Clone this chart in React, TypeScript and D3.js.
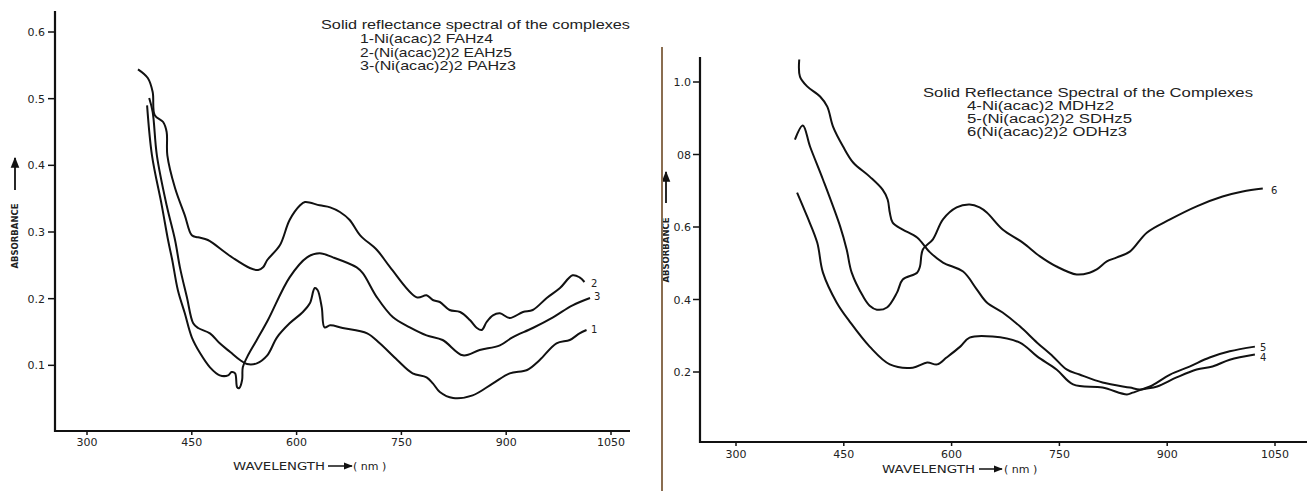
import React, { useEffect, useRef } from 'react';
import * as d3 from 'd3';

// shared wavelength ticks (nm)
const xTicks = [300, 450, 600, 750, 900, 1050];

// left panel
const leftYTicks = [0.1, 0.2, 0.3, 0.4, 0.5, 0.6];
const leftYLabels = ['0.1', '0.2', '0.3', '0.4', '0.5', '0.6'];
const leftLegend = [
    'Solid reflectance spectral of the complexes',
    '1-Ni(acac)2 FAHz4',
    '2-(Ni(acac)2)2 EAHz5',
    '3-(Ni(acac)2)2 PAHz3',
];

// right panel
const rightYTicks = [0.2, 0.4, 0.6, 0.8, 1.0];
const rightYLabels = ['0.2', '0.4', '0.6', '08', '1.0'];
const rightLegend = [
    'Solid Reflectance Spectral of the Complexes',
    '4-Ni(acac)2 MDHz2',
    '5-(Ni(acac)2)2 SDHz5',
    '6(Ni(acac)2)2 ODHz3',
];

// curve 1 - Ni(acac)2 FAHz4
const c1Nm = [389, 394, 400, 414, 426, 433, 443, 452, 459, 476, 490, 505, 519, 529, 543, 558, 572, 590, 609, 619, 626, 630, 636, 640, 648, 666, 701, 719, 744, 766, 786, 795, 805, 824, 852, 881, 905, 930, 948, 972, 991, 1005, 1015];
const c1Abs = [0.501, 0.48, 0.415, 0.34, 0.288, 0.247, 0.202, 0.163, 0.156, 0.148, 0.133, 0.12, 0.108, 0.102, 0.103, 0.115, 0.142, 0.163, 0.18, 0.193, 0.216, 0.213, 0.187, 0.157, 0.16, 0.156, 0.148, 0.133, 0.108, 0.088, 0.082, 0.073, 0.06, 0.051, 0.055, 0.073, 0.088, 0.093, 0.108, 0.133, 0.138, 0.148, 0.153];

// curve 2 - (Ni(acac)2)2 EAHz5
const c2Nm = [373, 387, 394, 397, 409, 414, 415, 426, 440, 450, 459, 473, 497, 509, 533, 545, 552, 558, 576, 590, 605, 612, 633, 648, 662, 676, 691, 715, 734, 772, 786, 795, 805, 819, 834, 848, 858, 865, 872, 881, 891, 905, 924, 938, 958, 977, 995, 1005, 1012];
const c2Abs = [0.544, 0.531, 0.51, 0.475, 0.465, 0.45, 0.415, 0.366, 0.325, 0.295, 0.292, 0.288, 0.27, 0.261, 0.246, 0.243, 0.247, 0.258, 0.28, 0.318, 0.34, 0.345, 0.34, 0.337, 0.33, 0.318, 0.295, 0.273, 0.247, 0.202, 0.205, 0.198, 0.195, 0.183, 0.18, 0.168, 0.156, 0.153, 0.165, 0.175, 0.178, 0.171, 0.18, 0.183, 0.201, 0.216, 0.235, 0.232, 0.225];

// curve 3 - (Ni(acac)2)2 PAHz3
const c3Nm = [386, 393, 407, 416, 422, 430, 440, 450, 462, 476, 490, 502, 507, 512, 515, 518, 522, 523, 529, 543, 559, 590, 615, 633, 652, 686, 695, 715, 738, 762, 786, 809, 838, 862, 891, 909, 938, 967, 995, 1020];
const c3Abs = [0.49, 0.415, 0.34, 0.288, 0.258, 0.213, 0.178, 0.142, 0.118, 0.097, 0.085, 0.085, 0.09, 0.088, 0.067, 0.066, 0.078, 0.097, 0.112, 0.138, 0.168, 0.232, 0.262, 0.268, 0.262, 0.247, 0.238, 0.202, 0.172, 0.157, 0.145, 0.138, 0.115, 0.123, 0.13, 0.142, 0.156, 0.172, 0.19, 0.201];

// curve 4 - Ni(acac)2 MDHz2
const c4Nm = [385, 399, 413, 421, 440, 459, 486, 514, 546, 566, 580, 593, 612, 625, 657, 695, 719, 746, 769, 810, 844, 852, 866, 886, 913, 941, 963, 987, 1022];
const c4Abs = [0.695, 0.629, 0.557, 0.474, 0.392, 0.337, 0.27, 0.221, 0.212, 0.226, 0.221, 0.24, 0.27, 0.295, 0.298, 0.281, 0.243, 0.207, 0.166, 0.157, 0.138, 0.143, 0.152, 0.16, 0.185, 0.207, 0.215, 0.234, 0.248];

// curve 5 - (Ni(acac)2)2 SDHz5
const c5Nm = [388, 389, 399, 417, 427, 435, 449, 463, 486, 504, 511, 514, 518, 532, 552, 570, 588, 616, 635, 649, 671, 695, 719, 741, 760, 778, 810, 848, 862, 876, 904, 931, 959, 987, 1022];
const c5Abs = [1.062, 1.015, 0.988, 0.96, 0.932, 0.877, 0.822, 0.778, 0.739, 0.703, 0.676, 0.64, 0.612, 0.593, 0.571, 0.53, 0.502, 0.477, 0.428, 0.392, 0.364, 0.326, 0.281, 0.243, 0.207, 0.193, 0.171, 0.157, 0.152, 0.16, 0.193, 0.215, 0.24, 0.257, 0.27];

// curve 6 - (Ni(acac)2)2 ODHz3
const c6Nm = [382, 393, 403, 421, 445, 454, 461, 477, 486, 496, 510, 524, 532, 552, 556, 560, 574, 588, 607, 625, 639, 649, 671, 699, 723, 746, 774, 792, 802, 816, 830, 848, 872, 904, 941, 977, 1005, 1033];
const c6Abs = [0.841, 0.88, 0.822, 0.731, 0.601, 0.538, 0.474, 0.408, 0.383, 0.372, 0.378, 0.419, 0.455, 0.474, 0.491, 0.538, 0.566, 0.621, 0.654, 0.662, 0.654, 0.64, 0.593, 0.557, 0.519, 0.491, 0.469, 0.474, 0.483, 0.505, 0.516, 0.532, 0.585, 0.621, 0.657, 0.684, 0.698, 0.706];

const zip = (nm: number[], abs: number[]) => nm.map((v, i) => [v, abs[i]] as [number, number]);

const App: React.FC = () => {
    const svgRef = useRef<SVGSVGElement>(null);

    useEffect(() => {
        if (!svgRef.current) return;
        const svg = d3.select(svgRef.current);
        svg.selectAll('*').remove();

        const defs = svg.append('defs');
        defs.append('marker')
            .attr('id', 'head')
            .attr('viewBox', '0 0 10 10')
            .attr('refX', 9).attr('refY', 5)
            .attr('markerWidth', 6).attr('markerHeight', 6)
            .attr('orient', 'auto-start-reverse')
            .append('path').attr('d', 'M0,1 L10,5 L0,9 z').attr('fill', '#111');

        const panels = [
            {
                xRange: [87, 611], yDomain: [0, 0.6], yRange: [432, 32],
                axisX: 55, axisY: 431, axisTop: 11, axisRight: 630,
                yTicks: leftYTicks, yLabels: leftYLabels, labelX: 45, xLabelY: 446,
                curves: [
                    { pts: zip(c1Nm, c1Abs), label: '1', lx: 591, ly: 333 },
                    { pts: zip(c2Nm, c2Abs), label: '2', lx: 591, ly: 287 },
                    { pts: zip(c3Nm, c3Abs), label: '3', lx: 594, ly: 300 },
                ],
                legend: leftLegend, legX: 321, legIndent: 360, legY: [29, 43, 57, 70], legW: [309, 133, 152, 156],
                legSize: 13.5,
                absX: 15, absY: 236, arrowY: [190, 158],
                wave: { x0: 233, x1: 325, ax0: 328, ax1: 352, nm: 353, y: 470 },
            },
            {
                xRange: [736, 1275], yDomain: [0, 1], yRange: [444.5, 82],
                axisX: 700, axisY: 442, axisTop: 57, axisRight: 1307,
                yTicks: rightYTicks, yLabels: rightYLabels, labelX: 691, xLabelY: 458,
                curves: [
                    { pts: zip(c4Nm, c4Abs), label: '4', lx: 1260, ly: 361 },
                    { pts: zip(c5Nm, c5Abs), label: '5', lx: 1260, ly: 351 },
                    { pts: zip(c6Nm, c6Abs), label: '6', lx: 1271, ly: 194 },
                ],
                legend: rightLegend, legX: 923, legIndent: 967, legY: [97, 110, 123, 136], legW: [330, 147, 165, 160],
                legSize: 12,
                absX: 666, absY: 250, arrowY: [203, 172],
                wave: { x0: 882, x1: 975, ax0: 979, ax1: 1002, nm: 1004, y: 473 },
            },
        ];

        panels.forEach(p => {
            const x = d3.scaleLinear().domain([300, 1050]).range(p.xRange);
            const y = d3.scaleLinear().domain(p.yDomain).range(p.yRange);
            const g = svg.append('g');

            // axes
            g.append('line')
                .attr('x1', p.axisX).attr('x2', p.axisX)
                .attr('y1', p.axisTop).attr('y2', p.axisY + 1)
                .attr('stroke', '#111').attr('stroke-width', 2.2);
            g.append('line')
                .attr('x1', p.axisX - 1).attr('x2', p.axisRight)
                .attr('y1', p.axisY).attr('y2', p.axisY)
                .attr('stroke', '#111').attr('stroke-width', 2.2);

            // y ticks
            p.yTicks.forEach((t, i) => {
                g.append('line')
                    .attr('x1', p.axisX - 7).attr('x2', p.axisX)
                    .attr('y1', y(t)).attr('y2', y(t))
                    .attr('stroke', '#111').attr('stroke-width', 1.5);
                g.append('text')
                    .attr('x', p.labelX).attr('y', y(t) + 4)
                    .attr('text-anchor', 'end')
                    .attr('font-family', 'DejaVu Sans')
                    .attr('font-size', 11)
                    .attr('fill', '#222')
                    .text(p.yLabels[i]);
            });

            // x ticks
            xTicks.forEach(t => {
                g.append('line')
                    .attr('x1', x(t)).attr('x2', x(t))
                    .attr('y1', p.axisY).attr('y2', p.axisY + 4)
                    .attr('stroke', '#111').attr('stroke-width', 1.5);
                g.append('text')
                    .attr('x', x(t)).attr('y', p.xLabelY)
                    .attr('text-anchor', 'middle')
                    .attr('font-family', 'DejaVu Sans')
                    .attr('font-size', 11)
                    .attr('fill', '#222')
                    .text(t);
            });

            // curves
            const line = d3.line<[number, number]>()
                .x(d => x(d[0]))
                .y(d => y(d[1]))
                .curve(d3.curveCatmullRom.alpha(0.5));
            p.curves.forEach(c => {
                g.append('path')
                    .attr('d', line(c.pts) || '')
                    .attr('fill', 'none')
                    .attr('stroke', '#111')
                    .attr('stroke-width', 2)
                    .attr('stroke-linejoin', 'round');
                g.append('text')
                    .attr('x', c.lx).attr('y', c.ly)
                    .attr('font-family', 'DejaVu Sans')
                    .attr('font-size', 10)
                    .attr('fill', '#222')
                    .text(c.label);
            });

            // legend
            p.legend.forEach((s, i) => {
                g.append('text')
                    .attr('x', i === 0 ? p.legX : p.legIndent)
                    .attr('y', p.legY[i])
                    .attr('font-family', 'Liberation Sans, Arial, sans-serif')
                    .attr('font-size', p.legSize)
                    .attr('fill', '#222')
                    .attr('textLength', p.legW[i])
                    .attr('lengthAdjust', 'spacingAndGlyphs')
                    .text(s);
            });

            // absorbance title with arrow
            g.append('text')
                .attr('transform', `translate(${p.absX + 3},${p.absY}) rotate(-90)`)
                .attr('text-anchor', 'middle')
                .attr('font-family', 'DejaVu Sans')
                .attr('font-size', 8.5)
                .attr('font-weight', 'bold')
                .attr('fill', '#222')
                .text('ABSORBANCE');
            g.append('line')
                .attr('x1', p.absX).attr('x2', p.absX)
                .attr('y1', p.arrowY[0]).attr('y2', p.arrowY[1])
                .attr('stroke', '#111').attr('stroke-width', 1.8)
                .attr('marker-end', 'url(#head)');

            // wavelength title with arrow
            g.append('text')
                .attr('x', p.wave.x0).attr('y', p.wave.y)
                .attr('font-family', 'DejaVu Sans')
                .attr('font-size', 10)
                .attr('fill', '#222')
                .attr('textLength', p.wave.x1 - p.wave.x0)
                .attr('lengthAdjust', 'spacingAndGlyphs')
                .text('WAVELENGTH');
            g.append('line')
                .attr('x1', p.wave.ax0).attr('x2', p.wave.ax1)
                .attr('y1', p.wave.y - 4).attr('y2', p.wave.y - 4)
                .attr('stroke', '#111').attr('stroke-width', 1.5)
                .attr('marker-end', 'url(#head)');
            g.append('text')
                .attr('x', p.wave.nm).attr('y', p.wave.y)
                .attr('font-family', 'DejaVu Sans')
                .attr('font-size', 11)
                .attr('fill', '#222')
                .text('( nm )');
        });

        // edge of the scanned page on the right figure
        svg.append('line')
            .attr('x1', 662).attr('x2', 662)
            .attr('y1', 47).attr('y2', 491)
            .attr('stroke', '#8a6d50').attr('stroke-width', 2);
    }, []);

    return (
        <div style={{ position: 'absolute', left: 0, top: 0 }}>
            <svg ref={svgRef} width={1307} height={491} style={{ display: 'block', background: '#fff' }}></svg>
        </div>
    );
};

export default App;
